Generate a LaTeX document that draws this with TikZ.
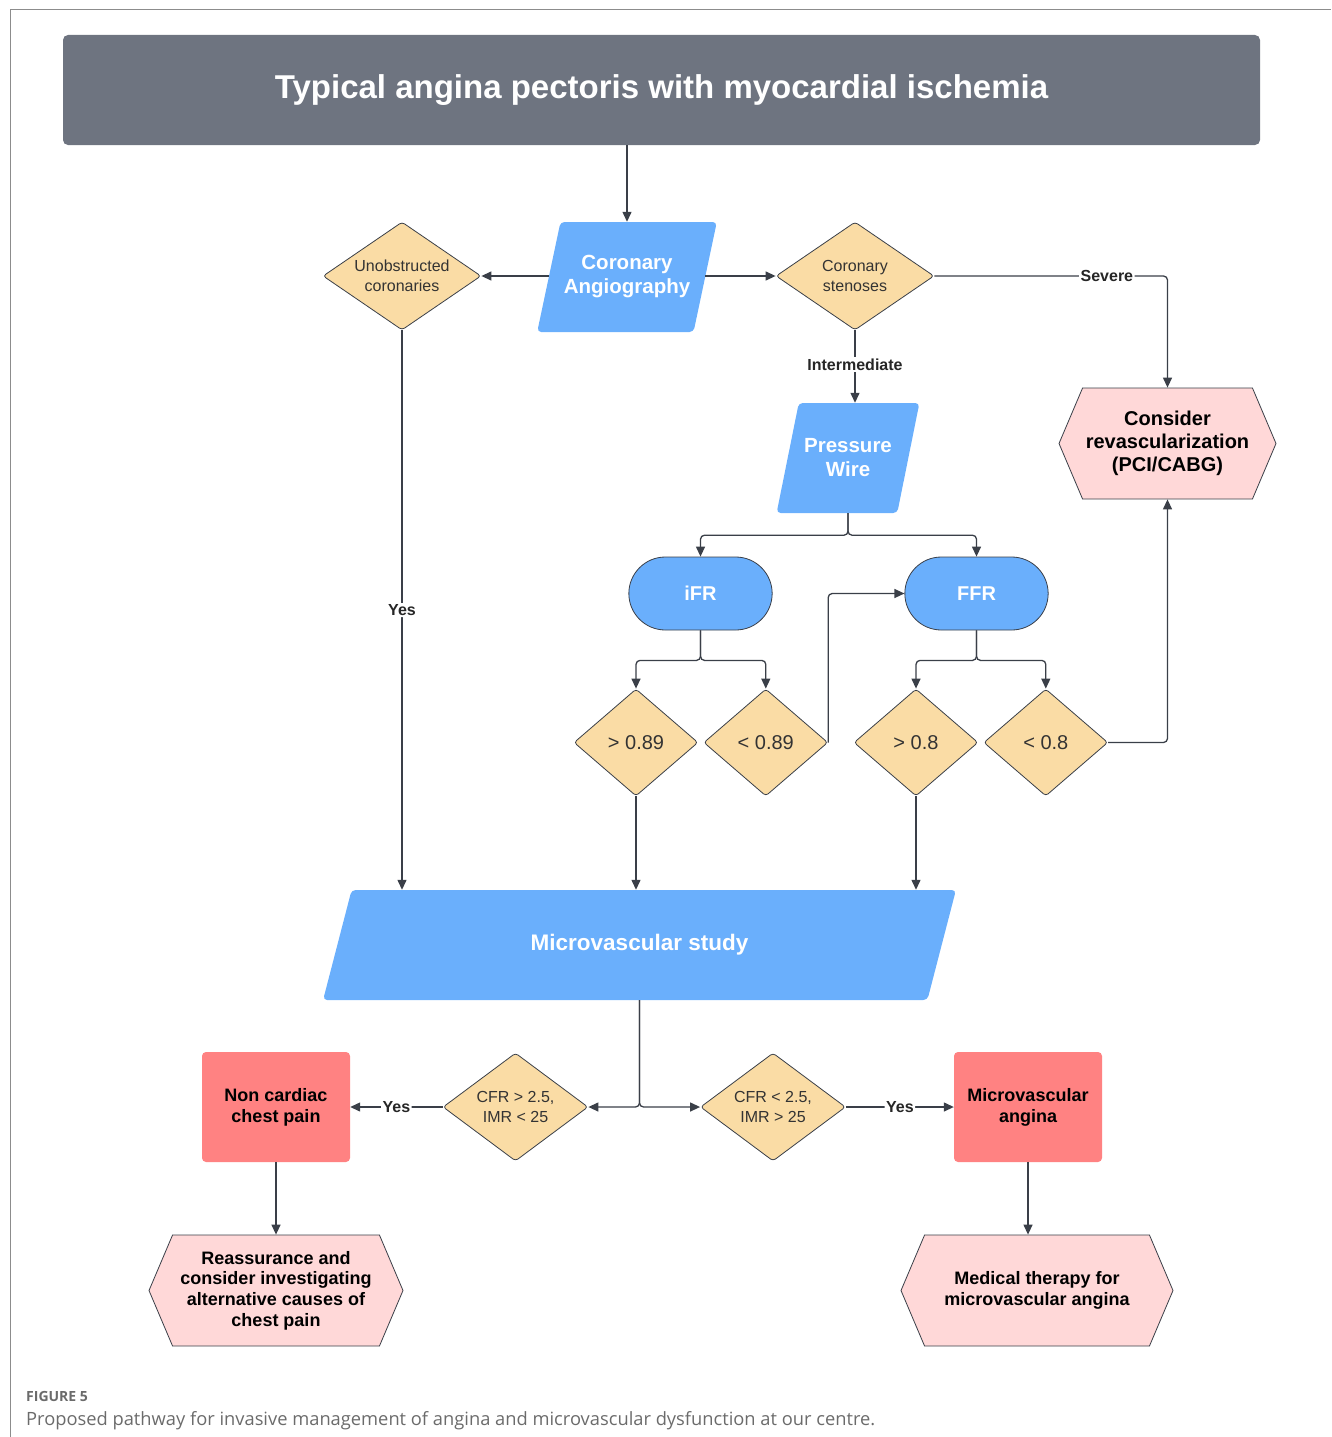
\documentclass[tikz,border=0pt]{standalone}
\usepackage{fontspec}
\setmainfont{Liberation Sans}
\newfontfamily\capfont{Open Sans}
\usetikzlibrary{arrows.meta,positioning,shapes.geometric,shapes.symbols,shapes.misc}

\definecolor{titlegray}{HTML}{6E7480}
\definecolor{boxblue}{HTML}{6AAFFC}
\definecolor{decfill}{HTML}{FADCA5}
\definecolor{outred}{HTML}{FF8282}
\definecolor{endpink}{HTML}{FFD8D8}
\definecolor{linegray}{HTML}{3A3F48}
\definecolor{capgray}{HTML}{6B6B6B}

\tikzset{
  titlebox/.style={fill=titlegray, rounded corners=5pt, minimum width=1197, minimum height=110,
    text=white, font=\fontsize{33}{38}\selectfont\bfseries},
  para/.style={trapezium, trapezium stretches=true, fill=boxblue, rounded corners=4pt,
    minimum height=110, align=center, text=white, font=\fontsize{20.5}{24}\selectfont\bfseries},
  decision/.style={diamond, fill=decfill, draw=linegray, line width=0.8pt, rounded corners=3pt,
    inner sep=0pt, align=center, text=black!80, font=\fontsize{16}{20}\selectfont},
  smalldec/.style={decision, aspect=1.16, minimum width=124, minimum height=107,
    font=\fontsize{20}{24}\selectfont},
  pill/.style={rounded rectangle, fill=boxblue, draw=linegray, line width=0.8pt,
    minimum width=150, minimum height=73, text=white, font=\fontsize{20}{24}\selectfont\bfseries},
  outcome/.style={rectangle, fill=outred, rounded corners=4pt, minimum width=148, minimum height=110,
    align=center, font=\fontsize{18}{21}\selectfont\bfseries},
  endhex/.style={signal, signal to=west and east, signal pointer angle=134, fill=endpink,
    draw=linegray, line width=0.8pt, inner sep=0pt, align=center, font=\bfseries},
  link/.style={draw=linegray, line width=1.3pt, rounded corners=4pt, -{Triangle[length=10pt,width=9pt]}},
  lbl/.style={fill=white, inner sep=1.5pt, text=black!85, font=\fontsize{16}{19}\selectfont\bfseries}
}

\begin{document}
\begin{tikzpicture}[x=1pt,y=-1pt]
  \useasboundingbox (0,0) rectangle (1331,1437);
  % frame of the figure panel
  \draw[black!45, line width=0.8pt] (10,1437) -- (10,9) -- (1331,9);

  \node[titlebox] (title) at (661.5,90) {Typical angina pectoris with myocardial ischemia};

  \node[para, inner ysep=33.5, trapezium left angle=78, trapezium right angle=102, minimum width=180]
    (angio) at (627,277) {Coronary\\Angiography};
  \node[decision, aspect=1.46, minimum width=158, minimum height=108] (unob) at (402,276)
    {Unobstructed\\coronaries};
  \node[decision, aspect=1.46, minimum width=158, minimum height=108] (sten) at (855,276)
    {Coronary\\stenoses};

  \node[para, inner ysep=35.5, trapezium left angle=79, trapezium right angle=101, minimum width=143]
    (pw) at (848,458) {Pressure\\Wire};
  \node[endhex, minimum width=217, minimum height=111, font=\fontsize{20}{23}\selectfont\bfseries]
    (consider) at (1167.5,443.5) {Consider\\revascularization\\(PCI/CABG)};

  \node[pill] (ifr) at (700.5,593.5) {iFR};
  \node[pill] (ffr) at (976.5,593.5) {FFR};

  \node[smalldec] (gt89) at (636,742.5) {> 0.89};
  \node[smalldec, right=5 of gt89] (lt89) {< 0.89};
  \node[smalldec] (gt8) at (916,742.5) {> 0.8};
  \node[smalldec, right=5 of gt8] (lt8) {< 0.8};

  \node[para, inner ysep=15, trapezium left angle=77.7, trapezium right angle=102.3, minimum width=635,
    font=\fontsize{22.5}{26}\selectfont\bfseries] (study) at (639.5,945) {Microvascular study};

  \node[decision, aspect=1.34, minimum width=145, minimum height=108] (cfrhi) at (515.5,1107)
    {CFR > 2.5,\\IMR < 25};
  \node[decision, aspect=1.34, minimum width=145, minimum height=108] (cfrlo) at (773,1107)
    {CFR < 2.5,\\IMR > 25};

  \node[outcome] (noncard) at (276,1107) {Non cardiac\\chest pain};
  \node[outcome] (mvangina) at (1028,1107) {Microvascular\\angina};

  \node[endhex, minimum width=254, minimum height=111, font=\fontsize{18}{20.7}\selectfont\bfseries]
    (reass) at (276,1290.5) {Reassurance and\\consider investigating\\alternative causes of\\chest pain};
  \node[endhex, minimum width=272, minimum height=111, font=\fontsize{18}{21}\selectfont\bfseries]
    (medther) at (1037,1290.5) {Medical therapy for\\microvascular angina};

  % connectors
  \draw[link] (angio.north |- title.south) -- (angio.north);
  \draw[link] (angio.west |- unob.east) -- (unob.east);
  \draw[link] (angio.east |- sten.west) -- (sten.west);
  \draw[link] (sten.east) -| node[lbl, pos=0.37] {Severe} (consider.north);
  \draw[link] (sten.south) -- node[lbl, pos=0.47] {Intermediate} (sten.south |- pw.north);
  \draw[link] (pw.south) -- ++(0,22) -| (ifr.north);
  \draw[link] (pw.south) -- ++(0,22) -| (ffr.north);

  \draw[link] (ifr.south) -- ++(0,30) -| (gt89.north);
  \draw[link] (ifr.south) -- ++(0,30) -| (lt89.north);
  \draw[link] (ffr.south) -- ++(0,30) -| (gt8.north);
  \draw[link] (ffr.south) -- ++(0,30) -| (lt8.north);
  \draw[link] (lt89.east) |- (ffr.west);
  \draw[link] (lt8.east) -| (consider.south);

  \draw[link] (unob.south) -- node[lbl, pos=0.5] {Yes} (unob.south |- study.north);
  \draw[link] (gt89.south) -- (gt89.south |- study.north);
  \draw[link] (gt8.south) -- (gt8.south |- study.north);

  \draw[link] (study.south) |- (cfrhi.east);
  \draw[link] (study.south) |- (cfrlo.west);
  \draw[link] (cfrhi.west) -- node[lbl] {Yes} (noncard.east);
  \draw[link] (cfrlo.east) -- node[lbl] {Yes} (mvangina.west);
  \draw[link] (noncard.south) -- (reass.north);
  \draw[link] (mvangina.south) -- (mvangina.south |- medther.north);

  % caption
  \node[anchor=base west, inner sep=0pt, text=capgray, font=\capfont\bfseries\fontsize{14}{16}\selectfont]
    (figno) at (26,1401) {FIGURE 5};
  \node[anchor=base west, inner sep=0pt, text=capgray, font=\capfont\fontsize{18.3}{21}\selectfont]
    (caption) at (26,1425) {Proposed pathway for invasive management of angina and microvascular dysfunction at our centre.};
\end{tikzpicture}
\end{document}
